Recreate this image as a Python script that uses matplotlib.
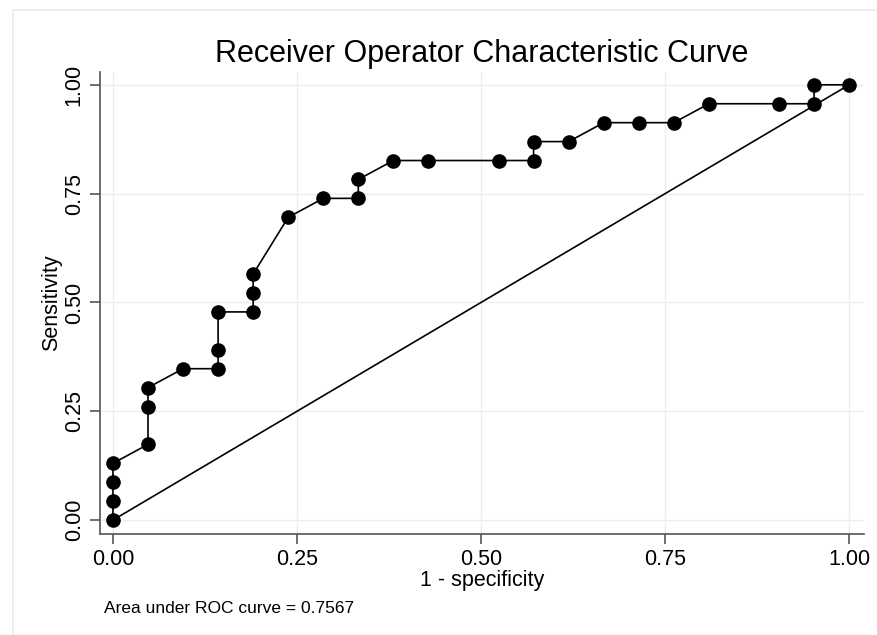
import numpy as np
import matplotlib.pyplot as plt
from matplotlib.patches import Rectangle

plt.rcParams['font.family'] = ['Liberation Sans', 'DejaVu Sans']

# ROC points: 1 - specificity (k/21) and sensitivity (k/23)
fpr = [0, 0, 0, 0, 1, 1, 1, 2, 3, 3, 3, 4, 4, 4, 5, 6, 7, 7, 8, 9, 11, 12, 12,
       13, 14, 15, 16, 17, 19, 20, 20, 21]
tpr = [0, 1, 2, 3, 4, 6, 7, 8, 8, 9, 11, 11, 12, 13, 16, 17, 17, 18, 19, 19, 19,
       19, 20, 20, 21, 21, 21, 22, 22, 22, 23, 23]
n_neg = 21
n_pos = 23
auc_text = "Area under ROC curve = 0.7567"

x = np.array(fpr) / n_neg
y = np.array(tpr) / n_pos

fig = plt.figure(figsize=(8.77, 6.35), dpi=100)
ax = fig.add_axes([0.114, 0.159, 0.871, 0.728])

# faint outer frame (runs off the right and bottom edges)
fig.patches.append(Rectangle((0.0148, -0.05), 1.1, 1.0343, transform=fig.transFigure,
                             fill=False, edgecolor='#e6eeee', linewidth=1.2))

grid_col = '#e6eff1'
for t in [0, 0.25, 0.5, 0.75, 1.0]:
    ax.axvline(t, color=grid_col, lw=1, zorder=0)
    ax.axhline(t, color=grid_col, lw=1, zorder=0)

ax.plot([0, 1], [0, 1], color='black', lw=1.2, zorder=2)
ax.plot(x, y, color='black', lw=1.2, marker='o', markersize=9.5, zorder=3)

ax.set_xlim(-0.0176, 1.02)
ax.set_ylim(-0.032, 1.03)
ticks = [0, 0.25, 0.5, 0.75, 1.0]
labels = ['0.00', '0.25', '0.50', '0.75', '1.00']
ax.set_xticks(ticks, labels, fontsize=15.5)
ax.set_yticks(ticks, labels, fontsize=15.5, rotation=90, va='center')
ax.tick_params(length=7, width=1.2, color='#555555', pad=4)

for s in ['top', 'right']:
    ax.spines[s].set_visible(False)
for s in ['left', 'bottom']:
    ax.spines[s].set_color('#555555')
    ax.spines[s].set_linewidth(1.2)

ax.set_xlabel("1 - specificity", fontsize=15.5, labelpad=0)
ax.set_ylabel("Sensitivity", fontsize=15.5, labelpad=1)
ax.set_title("Receiver Operator Characteristic Curve", fontsize=22, pad=7)
fig.text(0.119, 0.042, auc_text, fontsize=12.5, va='center')

fig.savefig("out.png", dpi=100)
